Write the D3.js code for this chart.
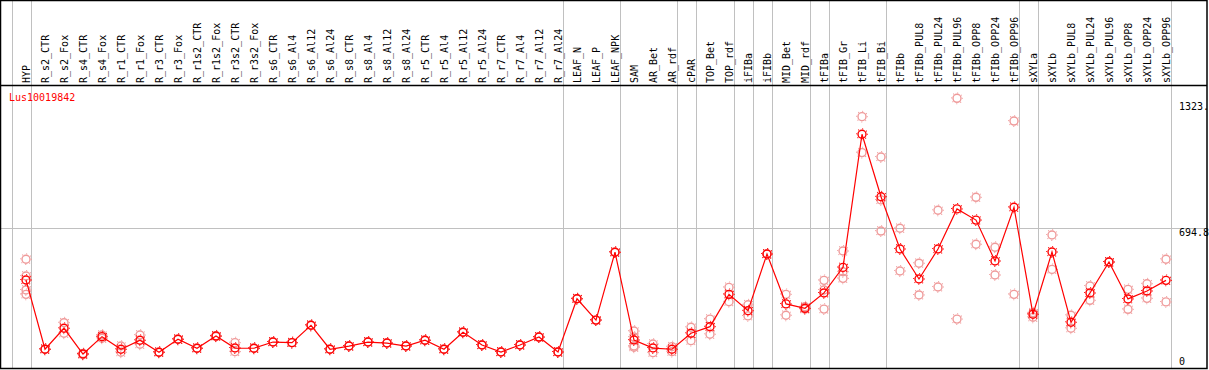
<!DOCTYPE html>
<html>
<head>
<meta charset="utf-8">
<script src="https://cdn.jsdelivr.net/npm/d3@7"></script>
<style>
  body { margin: 0; background: #fff; }
  svg { display: block; }
  text { font-family: "DejaVu Sans Mono", monospace; font-size: 10px; }
</style>
</head>
<body>
<svg id="chart" width="1209" height="370"></svg>
<script>
var geneName = "Lus10019842";

var categories = ["HYP","R_s2_CTR","R_s2_Fox","R_s4_CTR","R_s4_Fox","R_r1_CTR","R_r1_Fox","R_r3_CTR","R_r3_Fox",
  "R_r1s2_CTR","R_r1s2_Fox","R_r3s2_CTR","R_r3s2_Fox","R_s6_CTR","R_s6_Al4","R_s6_Al12","R_s6_Al24",
  "R_s8_CTR","R_s8_Al4","R_s8_Al12","R_s8_Al24","R_r5_CTR","R_r5_Al4","R_r5_Al12","R_r5_Al24",
  "R_r7_CTR","R_r7_Al4","R_r7_Al12","R_r7_Al24","LEAF_N","LEAF_P","LEAF_NPK","SAM","AR_Bet","AR_rdf",
  "cPAR","TOP_Bet","TOP_rdf","iFIBa","iFIBb","MID_Bet","MID_rdf","tFIBa","tFIB_Gr","tFIB_Li","tFIB_Bi",
  "tFIBb","tFIBb_PUL8","tFIBb_PUL24","tFIBb_PUL96","tFIBb_OPP8","tFIBb_OPP24","tFIBb_OPP96",
  "sXYLa","sXYLb","sXYLb_PUL8","sXYLb_PUL24","sXYLb_PUL96","sXYLb_OPP8","sXYLb_OPP24","sXYLb_OPP96"];

var means = [436,89,194,65,152,89,134,74,139,94,155,95,94,125,122,209,89,105,125,120,105,134,89,174,110,
  75,110,150,75,342,235,575,135,95,89,169,202,364,282,566,316,294,371,499,1166,853,591,441,591,792,736,531,800,
  264,576,224,371,526,341,381,434];

var replicates = [[540,456,386,364],[89,89],[222,169],[62,68],[160,144],[105,74],[160,114],[74,74],[139,139],
  [94,94],[157,153],[122,77],[94,94],[125,125],[122,122],[209,209],[89,89],[105,105],[125,125],[120,120],
  [105,105],[134,134],[89,89],[174,174],[110,110],[75,75],[110,110],[150,150],[75,75],[342,342],[235,235],
  [575,575],[180,150,105,99],[115,72],[102,77],[199,132],[240,164],[399,327],[312,256],[566,566],[364,259],
  [302,290],[434,386,290],[581,477,444],[1254,1074],[1052,837,681],[695,481],[520,361],[785,401],[1346,240],
  [850,615],[600,461],[1232,364],[272,249],[661,489],[259,194],[406,334],[526,526],[389,289],[417,344],[540,326]];

// last column of each group, a grey rule is drawn after it
var groupEnds = ["HYP","R_r7_Al24","LEAF_NPK","AR_rdf","cPAR","TOP_rdf","iFIBa","iFIBb","MID_rdf","tFIBa",
  "tFIB_Bi","tFIBb_OPP96","sXYLa","sXYLb_OPP96"];

var tickValues = [0, 694.8, 1323.6];
var gridValues = [694.8];

var svg = d3.select("#chart");
var W = 1207, headerY = 85, bottom = 368;

var x = d3.scalePoint().domain(categories).range([26, 1166]);
var step = x.step();
var y = d3.scaleLinear().domain([0, 694.8]).range([367, 228.3]);

function px(v) { return Math.round(v) + 0.5; }

// grey vertical rules
var rules = [x(categories[0]) - step + 4.5].concat(groupEnds.map(function(c) { return x(c) + 4.5; }));
svg.append("g").selectAll("line").data(rules).join("line")
  .attr("x1", function(d) { return px(d); }).attr("x2", function(d) { return px(d); })
  .attr("y1", 0).attr("y2", bottom)
  .style("stroke", "#c0c0c0").style("stroke-width", 1);

// horizontal grid
svg.append("g").selectAll("line").data(gridValues).join("line")
  .attr("x1", 1).attr("x2", W)
  .attr("y1", function(d) { return px(y(d)); }).attr("y2", function(d) { return px(y(d)); })
  .style("stroke", "#c0c0c0").style("stroke-width", 1);

// column labels
svg.append("g").selectAll("text").data(categories).join("text")
  .attr("transform", function(d) { return "translate(" + (x(d) + 3.5) + "," + 83 + ") rotate(-90)"; })
  .style("fill", "#000")
  .text(function(d) { return d; });

// right axis labels, fixed width of 5 characters
function tickLabel(d) {
  return d === 0 ? "0" : d3.format(".1f")(d).slice(0, 5);
}
svg.append("g").selectAll("text").data(tickValues).join("text")
  .attr("x", 1179)
  .attr("y", function(d) { return d === 0 ? y(d) - 2 : y(d) + 7.5; })
  .style("fill", "#000")
  .text(tickLabel);

// replicate points
var repData = [];
replicates.forEach(function(r, i) {
  r.forEach(function(v) { repData.push({ c: categories[i], v: v }); });
});

function marker(g, color) {
  g.append("circle").attr("r", 4).style("fill", "none").style("stroke", color).style("stroke-width", 1.4);
  g.append("circle").attr("r", 5.4).style("fill", "none").style("stroke", color).style("stroke-width", 1)
    .style("stroke-dasharray", "1 3.24").attr("transform", "rotate(-5)");
}

svg.append("g").selectAll("g").data(repData).join("g")
  .attr("transform", function(d) { return "translate(" + x(d.c) + "," + y(d.v) + ")"; })
  .call(marker, "#ef9a9a");

// mean line
var line = d3.line()
  .x(function(d, i) { return x(categories[i]); })
  .y(function(d) { return y(d); });

svg.append("path").datum(means)
  .attr("d", line)
  .style("fill", "none").style("stroke", "#ff0000").style("stroke-width", 1.2);

svg.append("g").selectAll("g").data(means).join("g")
  .attr("transform", function(d, i) { return "translate(" + x(categories[i]) + "," + y(d) + ")"; })
  .call(marker, "#ff0000");

// gene name
svg.append("text").attr("x", 9).attr("y", 101).style("fill", "#ff0000").text(geneName);

// borders
svg.append("line").attr("x1", 0).attr("x2", W).attr("y1", headerY + 0.5).attr("y2", headerY + 0.5)
  .style("stroke", "#000").style("stroke-width", 1.5);
svg.append("rect").attr("x", 0.5).attr("y", 0.5).attr("width", W - 0.5).attr("height", bottom)
  .style("fill", "none").style("stroke", "#000").style("stroke-width", 1.5);
</script>
</body>
</html>
